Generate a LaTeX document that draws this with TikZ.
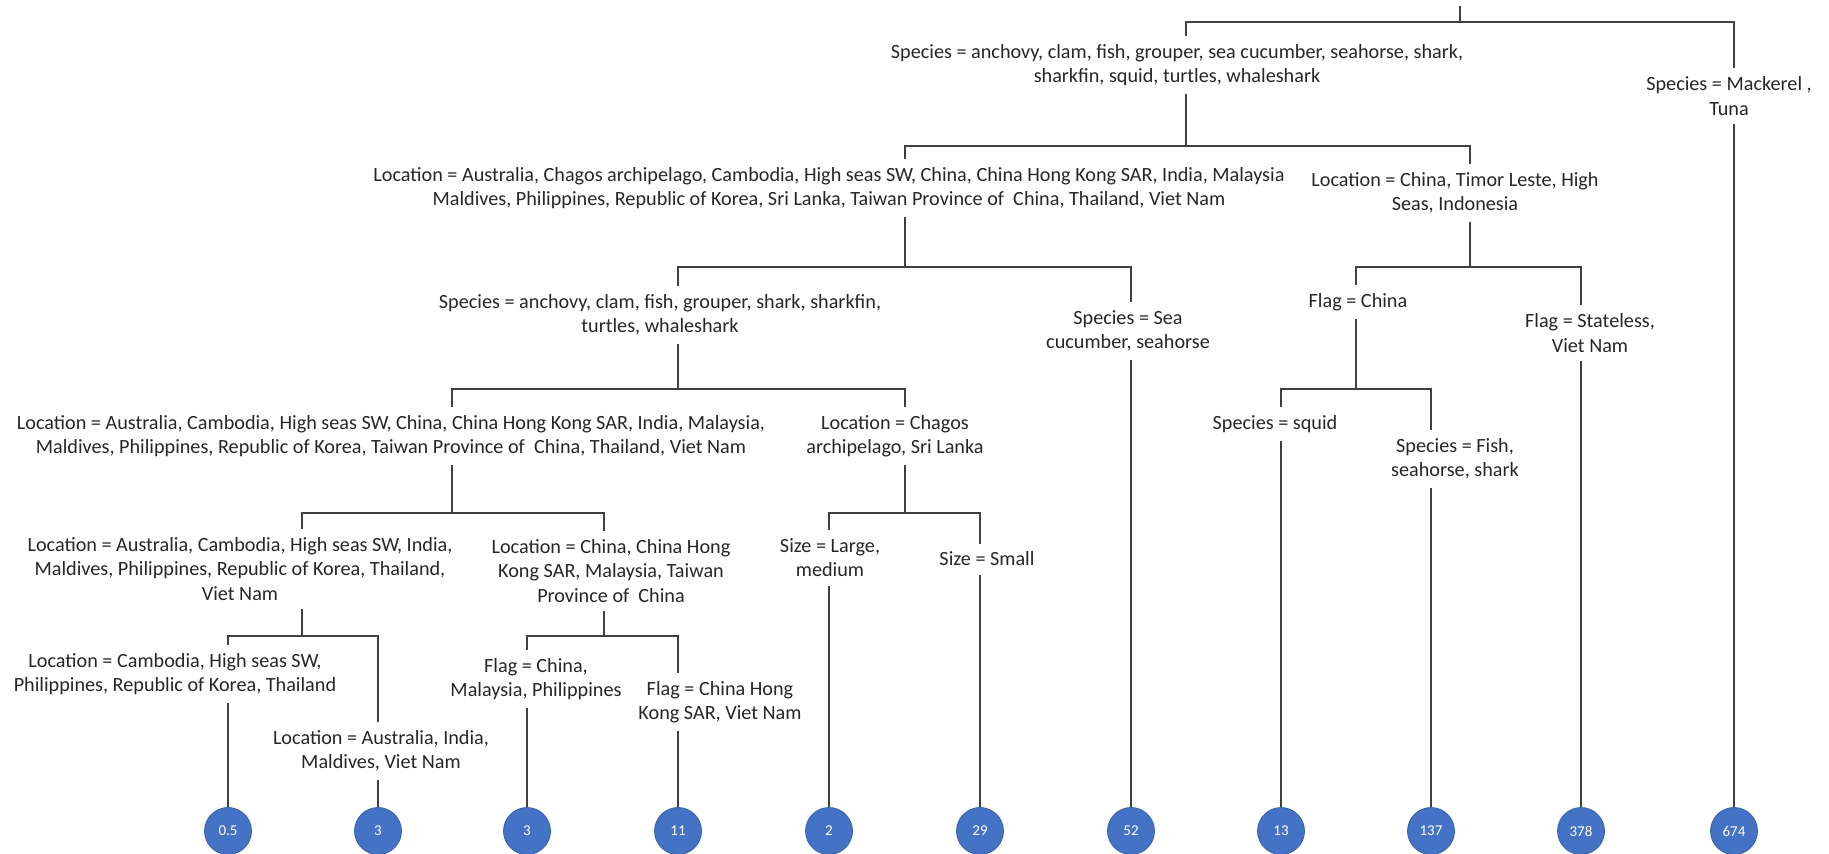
\documentclass[tikz,border=0pt]{standalone}
\usepackage{fontspec}
\setmainfont{Carlito}
\usepackage{tikz}
\usetikzlibrary{positioning, fit, arrows.meta, shapes}
\usepackage{xcolor}
\definecolor{leafblue}{HTML}{4472C4}
\definecolor{linegray}{HTML}{404040}

\begin{document}
\begin{tikzpicture}[
			% GLOBAL CFG
			x=0.5pt, y=-0.5pt,
			font=\fontsize{10.1}{12.1}\selectfont,
			% Styles
			split/.style={% For the split conditions
				align=center,
				inner xsep=1pt,
				inner ysep=4pt,
				text=black!85,
			},
			leaf/.style={% For the leaf values
				circle,
				fill=leafblue,
				draw=leafblue!85!black,
				line width=.4pt,
				minimum size=23.5pt,
				inner sep=0pt,
				text=white,
				font=\fontsize{7.5}{9}\selectfont,
			},
			edge/.style={% For the tree lines
				draw=linegray,
				line width=.8pt,
			},
			]
			\useasboundingbox (0,0) rectangle (1829,853);
			
			% Draw the split conditions
			\node[split] (n1) at (1177,65) {Species = anchovy, clam, fish, grouper, sea cucumber, seahorse, shark,\\ sharkfin, squid, turtles, whaleshark};
			\node[split] (mack) at (1729,96) {Species = Mackerel ,\\ Tuna};
			\node[split] (n2) at (829,188) {Location = Australia, Chagos archipelago, Cambodia, High seas SW, China, China Hong Kong SAR, India, Malaysia\\ Maldives, Philippines, Republic of Korea, Sri Lanka, Taiwan Province of\ \ China, Thailand, Viet Nam};
			\node[split] (n3) at (1455,193) {Location = China, Timor Leste, High\\ Seas, Indonesia};
			\node[split] (n4) at (660,315) {Species = anchovy, clam, fish, grouper, shark, sharkfin,\\ turtles, whaleshark};
			\node[split] (n5) at (1128,331) {Species = Sea\\ cucumber, seahorse};
			\node[split] (n6) at (1358,302) {Flag = China};
			\node[split] (n7) at (1590,333) {Flag = Stateless,\\ Viet Nam};
			\node[split] (n8) at (391,436) {Location = Australia, Cambodia, High seas SW, China, China Hong Kong SAR, India, Malaysia,\\ Maldives, Philippines, Republic of Korea, Taiwan Province of\ \ China, Thailand, Viet Nam};
			\node[split] (n9) at (895,436) {Location = Chagos\\ archipelago, Sri Lanka};
			\node[split] (n10) at (1275,424) {Species = squid};
			\node[split] (n11) at (1455,459) {Species = Fish,\\ seahorse, shark};
			\node[split] (n12) at (240,569) {Location = Australia, Cambodia, High seas SW, India,\\ Maldives, Philippines, Republic of Korea, Thailand,\\ Viet Nam};
			\node[split] (n13) at (611,571) {Location = China, China Hong\\ Kong SAR, Malaysia, Taiwan\\ Province of\ \ China};
			\node[split] (n14) at (830,558) {Size = Large,\\ medium};
			\node[split] (n15) at (987,559) {Size = Small};
			\node[split] (n16) at (175,674) {Location = Cambodia, High seas SW,\\ Philippines, Republic of Korea, Thailand};
			\node[split] (n17) at (381,751) {Location = Australia, India,\\ Maldives, Viet Nam};
			\node[split] (n18) at (536,679) {Flag = China,\\ Malaysia, Philippines};
			\node[split] (n19) at (720,702) {Flag = China Hong\\ Kong SAR, Viet Nam};
			
			% Draw the leaves
			\node[leaf] (c1) at (228,831) {0.5};
			\node[leaf] (c2) at (378,831) {3};
			\node[leaf] (c3) at (527,831) {3};
			\node[leaf] (c4) at (678,831) {11};
			\node[leaf] (c5) at (829,831) {2};
			\node[leaf] (c6) at (980,831) {29};
			\node[leaf] (c7) at (1131,831) {52};
			\node[leaf] (c8) at (1281,831) {13};
			\node[leaf] (c9) at (1431,831) {137};
			\node[leaf] (c10) at (1581,831) {378};
			\node[leaf] (c11) at (1734,831) {674};
			
			% Junctions of the bars
			\coordinate (root) at (1460,6);
			\coordinate (j0) at (1460,22);
			\coordinate (j1) at (1186,146);
			\coordinate (j2) at (905,267);
			\coordinate (j3) at (1470,267);
			\coordinate (j4) at (678,389);
			\coordinate (j6) at (1356,389);
			\coordinate (j8) at (452,513);
			\coordinate (j9) at (905,513);
			\coordinate (j12) at (302,636);
			\coordinate (j13) at (604,636);
			
			% Drawing the splits
			\draw[edge] (root) -- (j0);
			\draw[edge] (n1.north -| j1) |- (j0) -| (mack.north -| c11);
			\draw[edge] (n1.south -| j1) -- (j1);
			\draw[edge] (n2.north -| j2) |- (j1) -| (n3.north -| j3);
			\draw[edge] (n2.south -| j2) -- (j2);
			\draw[edge] (n4.north -| j4) |- (j2) -| (n5.north -| c7);
			\draw[edge] (n3.south -| j3) -- (j3);
			\draw[edge] (n6.north -| j6) |- (j3) -| (n7.north -| c10);
			\draw[edge] (n4.south -| j4) -- (j4);
			\draw[edge] (n8.north -| j8) |- (j4) -| (n9.north -| j9);
			\draw[edge] (n6.south -| j6) -- (j6);
			\draw[edge] (n10.north -| c8) |- (j6) -| (n11.north -| c9);
			\draw[edge] (n8.south -| j8) -- (j8);
			\draw[edge] (n12.north -| j12) |- (j8) -| (n13.north -| j13);
			\draw[edge] (n9.south -| j9) -- (j9);
			\draw[edge] (n14.north -| c5) |- (j9) -| (n15.north -| c6);
			\draw[edge] (n12.south -| j12) -- (j12);
			\draw[edge] (n16.north -| c1) |- (j12) -| (n17.north -| c2);
			\draw[edge] (n13.south -| j13) -- (j13);
			\draw[edge] (n18.north -| c3) |- (j13) -| (n19.north -| c4);
			
			% Drawing lines to the leaves
			\draw[edge] (mack.south -| c11) -- (c11);
			\draw[edge] (n5.south -| c7) -- (c7);
			\draw[edge] (n7.south -| c10) -- (c10);
			\draw[edge] (n10.south -| c8) -- (c8);
			\draw[edge] (n11.south -| c9) -- (c9);
			\draw[edge] (n14.south -| c5) -- (c5);
			\draw[edge] (n15.south -| c6) -- (c6);
			\draw[edge] (n16.south -| c1) -- (c1);
			\draw[edge] (n17.south -| c2) -- (c2);
			\draw[edge] (n18.south -| c3) -- (c3);
			\draw[edge] (n19.south -| c4) -- (c4);
			
		\end{tikzpicture}
\end{document}
